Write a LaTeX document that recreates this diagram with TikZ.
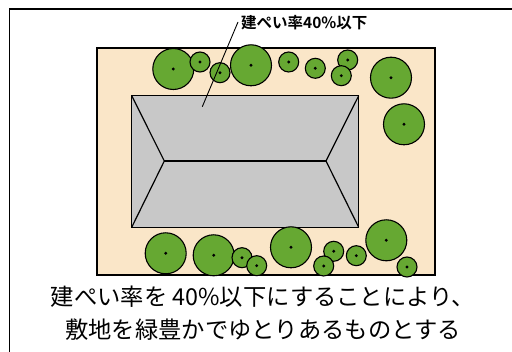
\documentclass[tikz,border=0pt]{standalone}
\usepackage{fontspec}
\setmainfont{Noto Sans CJK JP}
\newfontfamily\jpbold[BoldFont={* Bold}]{Noto Sans CJK JP}

\definecolor{sitecolor}{RGB}{250,230,200}
\definecolor{roofcolor}{RGB}{200,200,200}
\definecolor{treecolor}{RGB}{102,168,50}

\begin{document}
\begin{tikzpicture}[
  x=1pt, y=-1pt,
  frame/.style={draw, line width=1.6pt},
  site/.style={draw, line width=1.4pt, fill=sitecolor},
  roof/.style={draw, line width=1.2pt, fill=roofcolor, line join=miter},
  ridge/.style={line width=1.2pt},
  tree/.style={circle, draw, line width=1.1pt, fill=treecolor, inner sep=0pt,
    path picture={\fill[black] (path picture bounding box.center) circle (1.6pt);}},
  bigtree/.style={tree, minimum size=41pt},
  smalltree/.style={tree, minimum size=20pt},
  note/.style={font=\jpbold\bfseries\fontsize{15.5}{17}\selectfont, anchor=west, inner sep=2pt},
  caption/.style={font=\fontsize{23.3}{33}\selectfont, align=center}
]
\useasboundingbox (0,0) rectangle (512,352);

% outer frame (runs off the page on the right and bottom)
\draw[frame] (9.5,9) rectangle (530,370);

% site
\draw[site] (97,48) rectangle (435,275);

% building with hip roof
\draw[roof] (131.7,95.7) rectangle (358.7,227.3);
\coordinate (rl) at (164.3,161);
\coordinate (rr) at (326,161);
\draw[ridge] (131.7,95.7) -- (rl) -- (131.7,227.3);
\draw[ridge] (358.7,95.7) -- (rr) -- (358.7,227.3);
\draw[ridge] (rl) -- (rr);

% trees along the top
\node[bigtree] (t1) at (173.3,69) {};
\node[smalltree] (t2) at (200,62) {};
\node[smalltree] (t3) at (220,72.7) {};
\node[bigtree] (t4) at (251,65.3) {};
\node[smalltree] (t5) at (288.7,62) {};
\node[smalltree] (t6) at (315.3,68.3) {};
\node[smalltree] (t7) at (347.7,60) {};
\node[smalltree] (t8) at (341.3,75.7) {};
\node[bigtree] (t9) at (391,77.7) {};
\node[bigtree] (t10) at (404,124.3) {};

% trees along the bottom
\node[bigtree] (b1) at (165.7,253.3) {};
\node[bigtree] (b2) at (213.7,255.3) {};
\node[smalltree] (b3) at (242,257.7) {};
\node[smalltree] (b4) at (256.7,265.7) {};
\node[bigtree] (b5) at (291,247.3) {};
\node[smalltree] (b6) at (333.7,251.3) {};
\node[smalltree] (b7) at (323.7,266) {};
\node[smalltree] (b8) at (356.3,255.7) {};
\node[bigtree] (b9) at (386.3,240.3) {};
\node[smalltree] (b10) at (407,267) {};

% coverage label with leader into the building
\node[note] (ratio) at (239,23) {建ぺい率40\%以下};
\coordinate (inside) at (202.3,106.7);
\draw[line width=0.9pt] (ratio.west) ++(-1,-1) -- (inside);

% caption
\node[caption] (text) at (263,313) {建ぺい率を 40\%以下にすることにより、\\敷地を緑豊かでゆとりあるものとする};

\end{tikzpicture}
\end{document}
